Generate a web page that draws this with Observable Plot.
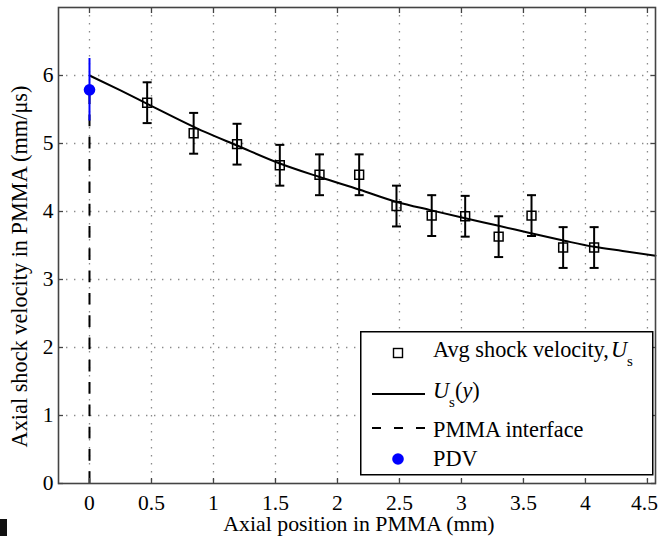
<!DOCTYPE html>
<html>
<head>
<meta charset="utf-8">
<script src="https://cdn.jsdelivr.net/npm/d3@7"></script>
<script src="https://cdn.jsdelivr.net/npm/@observablehq/plot@0.6"></script>
<style>
  html, body { margin: 0; padding: 0; background: white; }
  #wrap { position: relative; width: 659px; height: 536px; overflow: hidden; }
  #legend { position: absolute; left: 360px; top: 331px; }
  #mark { position: absolute; left: 0; top: 519px; width: 7px; height: 17px; background: #111; }
  svg text { font-family: "Liberation Serif", "Times New Roman", serif; }
</style>
</head>
<body>
<div id="wrap">
  <div id="chart"></div>
  <svg id="legend" width="294" height="145" xmlns="http://www.w3.org/2000/svg">
    <rect x="0.75" y="0.75" width="292" height="143" fill="white" stroke="black" stroke-width="1.5"/>
    <rect x="33.5" y="17.5" width="9" height="9" fill="none" stroke="black" stroke-width="1.4"/>
    <text x="73" y="26" font-size="22.3">Avg shock velocity,<tspan dx="2" font-style="italic">U</tspan><tspan dy="9" font-size="15">s</tspan></text>
    <line x1="12" y1="63" x2="65" y2="63" stroke="black" stroke-width="2"/>
    <text x="73" y="67" font-size="22.3"><tspan font-style="italic">U</tspan><tspan dy="9" font-size="15">s</tspan><tspan dy="-9">(</tspan><tspan font-style="italic">y</tspan><tspan>)</tspan></text>
    <line x1="12" y1="97" x2="65" y2="97" stroke="black" stroke-width="2" stroke-dasharray="9,13"/>
    <text x="73" y="106" font-size="22.3">PMMA interface</text>
    <circle cx="38" cy="128" r="5.8" fill="#0000ff"/>
    <text x="73" y="135" font-size="22.3">PDV</text>
  </svg>
  <div id="mark"></div>
</div>
<script>
// Tick values
const xTicks = [0, 0.5, 1, 1.5, 2, 2.5, 3, 3.5, 4, 4.5];
const yTicks = [0, 1, 2, 3, 4, 5, 6];

// Axis titles
const xTitle = "Axial position in PMMA (mm)";
const yTitle = "Axial shock velocity in PMMA (mm/μs)";

// Average shock velocity measurements (mm, mm/us, +/- error)
const avgPos = [0.465, 0.84, 1.19, 1.535, 1.855, 2.175, 2.476, 2.76, 3.03, 3.30, 3.565, 3.82, 4.07];
const avgVel = [5.60, 5.15, 4.99, 4.68, 4.54, 4.54, 4.08, 3.94, 3.93, 3.63, 3.94, 3.47, 3.47];
const avgErr = [0.30, 0.30, 0.30, 0.30, 0.30, 0.30, 0.30, 0.30, 0.30, 0.30, 0.30, 0.30, 0.30];

// Fitted curve Us(y)
const fitPos = [0, 0.25, 0.47, 0.93, 1.19, 1.53, 1.85, 2.18, 2.48, 2.75, 3.03, 3.30, 3.56, 3.83, 4.07, 4.30, 4.565];
const fitVel = [6.00, 5.78, 5.58, 5.17, 4.97, 4.71, 4.51, 4.32, 4.14, 4.02, 3.90, 3.79, 3.68, 3.57, 3.48, 3.42, 3.35];

// PDV point
const pdvPos = [0];
const pdvVel = [5.79];
const pdvErr = [0.46];

// PMMA interface
const interfacePos = [0];
const interfaceFrom = [0];
const interfaceTo = [5.8];

const avg = avgPos.map((x, i) => ({x, u: avgVel[i], e: avgErr[i]}));
const fit = fitPos.map((x, i) => ({x, u: fitVel[i]}));
const pdv = pdvPos.map((x, i) => ({x, u: pdvVel[i], e: pdvErr[i]}));
const iface = interfacePos.map((x, i) => ({x, y1: interfaceFrom[i], y2: interfaceTo[i]}));

const capSymbol = {
  draw(context, size) {
    const w = Math.sqrt(size / Math.PI);
    context.moveTo(-w, 0);
    context.lineTo(w, 0);
  }
};

const gridStyle = {stroke: "#8a8a8a", strokeOpacity: 1, strokeWidth: 1.3, strokeDasharray: "1.4,6.6"};
const axisColor = "#444";
const fs = 22.3;
const tickFs = 21.5;

const chart = Plot.plot({
  width: 659,
  height: 536,
  marginLeft: 58,
  marginRight: 4,
  marginTop: 7,
  marginBottom: 53,
  x: {domain: [-0.25, 4.565]},
  y: {domain: [0, 7]},
  style: {fontFamily: "'Liberation Serif', 'Times New Roman', serif", fontSize: tickFs + "px", background: "white", color: "black", overflow: "visible"},
  marks: [
    Plot.gridX(xTicks, gridStyle),
    Plot.gridY(yTicks.filter(v => v > 0), gridStyle),
    Plot.ruleX(iface, {x: "x", y1: "y1", y2: "y2", stroke: "black", strokeWidth: 2, strokeDasharray: "11.7,10.6"}),
    Plot.line(fit, {x: "x", y: "u", stroke: "black", strokeWidth: 2, curve: "monotone-x"}),
    Plot.ruleX(avg, {x: "x", y1: d => d.u - d.e, y2: d => d.u + d.e, stroke: "black", strokeWidth: 2}),
    Plot.dot(avg, {x: "x", y: d => d.u - d.e, symbol: capSymbol, r: 4.5, stroke: "black", strokeWidth: 2}),
    Plot.dot(avg, {x: "x", y: d => d.u + d.e, symbol: capSymbol, r: 4.5, stroke: "black", strokeWidth: 2}),
    Plot.dot(avg, {x: "x", y: "u", symbol: "square", r: 5, stroke: "black", strokeWidth: 1.5, fill: "none"}),
    Plot.ruleX(pdv, {x: "x", y1: d => d.u - d.e, y2: d => d.u + d.e, stroke: "#0000ff", strokeWidth: 2}),
    Plot.dot(pdv, {x: "x", y: "u", r: 5.8, fill: "#0000ff", stroke: "none"}),
    Plot.frame({stroke: axisColor, strokeWidth: 1.6}),
    // inward ticks on all four sides
    Plot.axisX(xTicks, {anchor: "bottom", tickSize: -5, tickFormat: () => "", label: null, stroke: axisColor, strokeWidth: 1.3}),
    Plot.axisX(xTicks, {anchor: "top", tickSize: -5, tickFormat: () => "", label: null, stroke: axisColor, strokeWidth: 1.3}),
    Plot.axisY(yTicks, {anchor: "left", tickSize: -5, tickFormat: () => "", label: null, stroke: axisColor, strokeWidth: 1.3}),
    Plot.axisY(yTicks, {anchor: "right", tickSize: -5, tickFormat: () => "", label: null, stroke: axisColor, strokeWidth: 1.3}),
    // tick labels
    Plot.axisX(xTicks.slice(0, -1), {anchor: "bottom", tickSize: 0, tickPadding: 11, tickFormat: d => String(d),
      label: null, fill: "black"}),
    Plot.axisX(xTicks.slice(-1), {anchor: "bottom", tickSize: 0, tickPadding: 11, tickFormat: d => String(d),
      label: null, fill: "black", dx: -3}),
    Plot.axisY(yTicks, {anchor: "left", tickSize: 0, tickPadding: 5, tickFormat: d => String(d),
      label: null, fill: "black"}),
    // axis titles
    Plot.text([xTitle], {frameAnchor: "bottom", text: d => d, dy: 40.5, dx: 2, lineAnchor: "middle", textAnchor: "middle", fontSize: 21.8, fill: "black"}),
    Plot.text([yTitle], {frameAnchor: "left", text: d => d, rotate: -90, dx: -39, dy: 21, lineAnchor: "middle", textAnchor: "middle", fontSize: fs, fill: "black"})
  ]
});
document.getElementById("chart").appendChild(chart);
</script>
</body>
</html>
